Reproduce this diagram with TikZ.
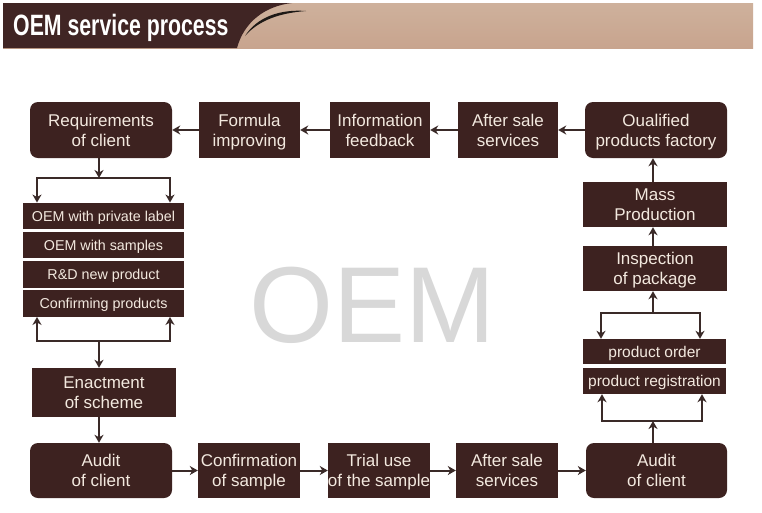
\documentclass[tikz,border=0pt]{standalone}
\usepackage{fontspec}
\setmainfont{Liberation Sans}
\usetikzlibrary{arrows.meta}
\definecolor{boxc}{HTML}{3D2220}
\definecolor{txtc}{HTML}{F3E9DF}
\definecolor{arrc}{HTML}{3A2A28}
\definecolor{hdark}{HTML}{402524}
\definecolor{htop}{HTML}{CEB19C}
\definecolor{hbot}{HTML}{C8A48E}
\definecolor{wmark}{HTML}{D8D8D8}
\tikzset{
  stepbox/.style={fill=boxc, text=txtc, inner sep=0pt, align=center,
    font=\fontsize{17}{20}\selectfont, text depth=0pt,
    execute at begin node=\vphantom{A}},
  roundbox/.style={stepbox, rounded corners=8pt},
  stackbox/.style={fill=boxc, text=txtc, inner sep=0pt, align=center,
    font=\fontsize{14.3}{17}\selectfont, minimum width=161pt, minimum height=26.5pt,
    text depth=0pt, text height=10.2pt},
  stackboxr/.style={fill=boxc, text=txtc, inner sep=0pt, align=center,
    font=\fontsize{15.5}{18}\selectfont, minimum width=143pt,
    text depth=0pt, text height=11.1pt},
  conn/.style={draw=arrc, line width=2pt, -{Stealth[length=8pt,width=9pt,inset=2.5pt]}},
  plain/.style={draw=arrc, line width=2pt},
}
\begin{document}
\begin{tikzpicture}[x=1pt,y=-1pt]
\useasboundingbox (0,0) rectangle (762,512);
\fill[white] (0,0) rectangle (762,512);
% header
\shade[top color=htop, bottom color=hbot] (3,3) rectangle (753,48);
\fill[hdark] (3,3) -- (292,3) .. controls (265,6) and (244,22) .. (237,48) -- (3,48) -- cycle;
\fill[black, opacity=0.85] (245,36) .. controls (257,17) and (280,9) .. (306,11)
  .. controls (280,13) and (259,20) .. (245,36) -- cycle;
\node[anchor=base west, inner sep=0pt, text=white] (title) at (13,35)
  {\scalebox{0.76}[1.05]{\fontsize{28}{30}\selectfont\bfseries OEM service process}};
% watermark
\node[anchor=base west, inner sep=0pt, text=wmark] (wm) at (249,342)
  {\fontsize{108}{110}\selectfont OEM};
% top row
\node[roundbox, minimum width=142pt, minimum height=56pt] (req) at (101,130) {Requirements\\of client};
\node[stepbox, minimum width=101pt, minimum height=56pt] (form) at (249.5,130) {Formula\\improving};
\node[stepbox, minimum width=100pt, minimum height=56pt] (info) at (380,130) {Information\\feedback};
\node[stepbox, minimum width=100pt, minimum height=56pt] (aft1) at (508,130) {After sale\\services};
\node[roundbox, minimum width=142pt, minimum height=56pt] (qual) at (656,130) {Oualified\\products factory};
% left stack
\node[stackbox] (s1) at (103.5,216) {OEM with private label};
\node[stackbox] (s2) at (103.5,245) {OEM with samples};
\node[stackbox] (s3) at (103.5,274.5) {R\&D new product};
\node[stackbox] (s4) at (103.5,303.5) {Confirming products};
\node[stepbox, minimum width=144pt, minimum height=49pt] (enact) at (104,392.5) {Enactment\\of scheme};
% bottom row
\node[roundbox, minimum width=142pt, minimum height=55pt] (aud1) at (101,470.5) {Audit\\of client};
\node[stepbox, minimum width=102pt, minimum height=55pt] (conf) at (249,470.5) {Confirmation\\of sample};
\node[stepbox, minimum width=102pt, minimum height=55pt] (trial) at (379,470.5) {Trial use\\of the sample};
\node[stepbox, minimum width=102pt, minimum height=55pt] (aft2) at (507,470.5) {After sale\\services};
\node[roundbox, minimum width=141pt, minimum height=55pt] (aud2) at (656.5,470.5) {Audit\\of client};
% right stack
\node[stackboxr, minimum height=26pt] (regs) at (654.5,381) {product registration};
\node[stackboxr, minimum height=25pt] (order) at (654.5,351.5) {product order};
\node[stepbox, minimum width=144pt, minimum height=45pt] (insp) at (655,268.5) {Inspection\\of package};
\node[stepbox, minimum width=144pt, minimum height=45pt] (mass) at (655,204.5) {Mass\\Production};
% junction coordinates
\coordinate (j1) at (99,178);
\coordinate (j1l) at (37,178);
\coordinate (j1r) at (170,178);
\coordinate (j2) at (99,341);
\coordinate (j2l) at (37,341);
\coordinate (j2r) at (170,341);
\coordinate (j3) at (653,421);
\coordinate (j3l) at (602,421);
\coordinate (j3r) at (702,421);
\coordinate (j4) at (653,313);
\coordinate (j4l) at (601,313);
\coordinate (j4r) at (700,313);
% top row arrows
\draw[conn] (form.west) -- (req.east);
\draw[conn] (info.west) -- (form.east);
\draw[conn] (aft1.west) -- (info.east);
\draw[conn] (qual.west) -- (aft1.east);
% left branch
\draw[conn] (req.south -| j1) -- (j1);
\draw[plain, line cap=rect] (j1l) -- (j1r);
\draw[conn] (j1l) -- (s1.north -| j1l);
\draw[conn] (j1r) -- (s1.north -| j1r);
\draw[conn] (j2l) -- (s4.south -| j2l);
\draw[conn] (j2r) -- (s4.south -| j2r);
\draw[plain, line cap=rect] (j2l) -- (j2r);
\draw[conn] (j2) -- (enact.north -| j2);
\draw[conn] (enact.south -| j2) -- (aud1.north -| j2);
% bottom row arrows
\draw[conn] (aud1.east) -- (conf.west);
\draw[conn] (conf.east) -- (trial.west);
\draw[conn] (trial.east) -- (aft2.west);
\draw[conn] (aft2.east) -- (aud2.west);
% right branch
\draw[conn] (aud2.north -| j3) -- (j3);
\draw[plain, line cap=rect] (j3l) -- (j3r);
\draw[conn] (j3l) -- (regs.south -| j3l);
\draw[conn] (j3r) -- (regs.south -| j3r);
\draw[conn] (j4l) -- (order.north -| j4l);
\draw[conn] (j4r) -- (order.north -| j4r);
\draw[plain, line cap=rect] (j4l) -- (j4r);
\draw[conn] (j4) -- (insp.south -| j4);
\draw[conn] (insp.north -| j4) -- (mass.south -| j4);
\draw[conn] (mass.north -| j4) -- (qual.south -| j4);
\end{tikzpicture}
\end{document}
